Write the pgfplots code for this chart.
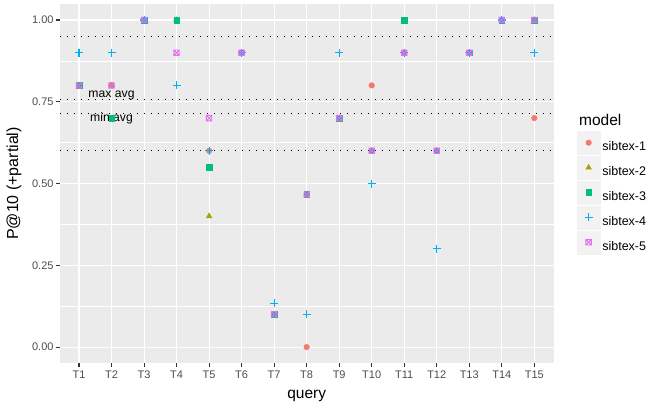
\documentclass[border=0pt]{standalone}
\usepackage{fontspec}
\setmainfont{Liberation Sans}
\usepackage{pgfplots}
\pgfplotsset{compat=1.18}
\definecolor{sA}{HTML}{F8766D}
\definecolor{sB}{HTML}{A3A500}
\definecolor{sC}{HTML}{00BF7D}
\definecolor{sD}{HTML}{00B0F6}
\definecolor{sE}{HTML}{E76BF3}
\definecolor{panel}{HTML}{EBEBEB}
\definecolor{legkey}{HTML}{F2F2F2}
\definecolor{tickcol}{HTML}{333333}
\definecolor{ticklab}{HTML}{4D4D4D}
\pgfdeclareplotmark{boxx}{%
  \pgfpathrectangle{\pgfqpoint{-\pgfplotmarksize}{-\pgfplotmarksize}}{\pgfqpoint{2\pgfplotmarksize}{2\pgfplotmarksize}}%
  \pgfpathmoveto{\pgfqpoint{-\pgfplotmarksize}{-\pgfplotmarksize}}%
  \pgfpathlineto{\pgfqpoint{\pgfplotmarksize}{\pgfplotmarksize}}%
  \pgfpathmoveto{\pgfqpoint{-\pgfplotmarksize}{\pgfplotmarksize}}%
  \pgfpathlineto{\pgfqpoint{\pgfplotmarksize}{-\pgfplotmarksize}}%
  \pgfusepathqstroke
}
\pgfplotstableread{
x y
1 0.8
2 0.8
3 1
4 1
5 0.6
6 0.9
7 0.1
8 0
9 0.7
10 0.8
11 0.9
12 0.6
13 0.9
14 1
15 0.7
}\sA
\pgfplotstableread{
x y
1 0.8
2 0.8
3 1
4 1
5 0.4
6 0.9
7 0.1
8 0.4667
9 0.7
10 0.6
11 0.9
12 0.6
13 0.9
14 1
15 1
}\sB
\pgfplotstableread{
x y
1 0.8
2 0.7
3 1
4 1
5 0.55
6 0.9
7 0.1
8 0.4667
9 0.7
10 0.6
11 1
12 0.6
13 0.9
14 1
15 1
}\sC
\pgfplotstableread{
x y
1 0.9
2 0.9
3 1
4 0.8
5 0.6
6 0.9
7 0.1333
8 0.1
9 0.9
10 0.5
11 0.9
12 0.3
13 0.9
14 1
15 0.9
}\sD
\pgfplotstableread{
x y
1 0.8
2 0.8
3 1
4 0.9
5 0.7
6 0.9
7 0.1
8 0.4667
9 0.7
10 0.6
11 0.9
12 0.6
13 0.9
14 1
15 1
}\sE
\begin{document}
\begin{tikzpicture}
\path[use as bounding box] (0,0) rectangle (655bp,407bp);
\begin{axis}[
  at={(59.5bp,43.6bp)}, anchor=south west,
  scale only axis, width=494.3bp, height=359.75bp,
  xmin=0.4, xmax=15.6, ymin=-0.05, ymax=1.05,
  axis background/.style={fill=panel},
  axis line style={draw=none},
  xtick={1,...,15},
  xticklabels={T1,T2,T3,T4,T5,T6,T7,T8,T9,T10,T11,T12,T13,T14,T15},
  ytick={0,0.25,0.5,0.75,1},
  yticklabels={0.00,0.25,0.50,0.75,1.00},
  minor ytick={0.125,0.375,0.625,0.875},
  grid=both,
  major grid style={white, line width=1.07bp},
  minor grid style={white, line width=0.53bp},
  tick pos=left,
  tick align=outside, major tick length=3.5bp, minor tick length=0pt,
  tick style={tickcol, line width=1.07bp},
  ticklabel style={font=\fontsize{11bp}{13bp}\selectfont, text=ticklab},
  yticklabel style={inner xsep=2.3bp},
  xticklabel style={inner ysep=4bp},
  xlabel={query}, ylabel={P@10 (+partial)},
  label style={font=\fontsize{15.5bp}{18bp}\selectfont},
  x label style={at={(axis description cs:0.5,-0.09)}, anchor=center},
  y label style={at={(axis description cs:-0.092,0.5)}, anchor=center, font=\fontsize{16bp}{18bp}\selectfont},
  legend style={at={(axis description cs:1.0468,0.646)}, anchor=north west,
    draw=none, fill=none, inner sep=0pt, outer sep=0pt, row sep=1.5bp,
    nodes={inner xsep=2bp, inner ysep=0pt},
    font=\fontsize{12.5bp}{15bp}\selectfont},
  legend cell align=left,
  legend image code/.code={%
    \fill[legkey] (0bp,-7.1bp) rectangle (23bp,15.9bp);
    \draw[mark repeat=2,mark phase=2,#1] plot coordinates {(0bp,4.4bp)(11.5bp,4.4bp)(23bp,4.4bp)};},
  clip=false,
]
\pgfplotsinvokeforeach{0.95,0.757,0.715,0.6}{
  \addplot[forget plot, black, line width=1.1bp, dash pattern=on 1.1bp off 5.9bp] coordinates {(0.4,#1) (15.6,#1)};
}
\node[font=\fontsize{12.2bp}{14bp}\selectfont, inner sep=0pt] at (axis cs:2,0.768) {max avg};
\node[font=\fontsize{12.2bp}{14bp}\selectfont, inner sep=0pt] at (axis cs:2,0.699) {min avg};
\addplot[only marks, sA, mark=*, mark size=2.8bp, mark options={draw=none, fill=sA}] table {\sA};
\addlegendentry{sibtex-1}
\addplot[only marks, sB, mark=triangle*, mark size=3.3bp, mark options={draw=none, fill=sB}] table {\sB};
\addlegendentry{sibtex-2}
\addplot[only marks, sC, mark=square*, mark size=2.8bp, mark options={draw=none, fill=sC}] table {\sC};
\addlegendentry{sibtex-3}
\addplot[only marks, sD, mark=+, mark size=4bp, mark options={draw=sD, line width=1.1bp}] table {\sD};
\addlegendentry{sibtex-4}
\addplot[only marks, sE, mark=boxx, mark size=2.7bp, mark options={draw=sE, line width=0.9bp}] table {\sE};
\addlegendentry{sibtex-5}
\node[font=\fontsize{15.5bp}{18bp}\selectfont, inner sep=0pt, anchor=west] at (axis description cs:1.051,0.6766) {model};
\end{axis}
\end{tikzpicture}
\end{document}
